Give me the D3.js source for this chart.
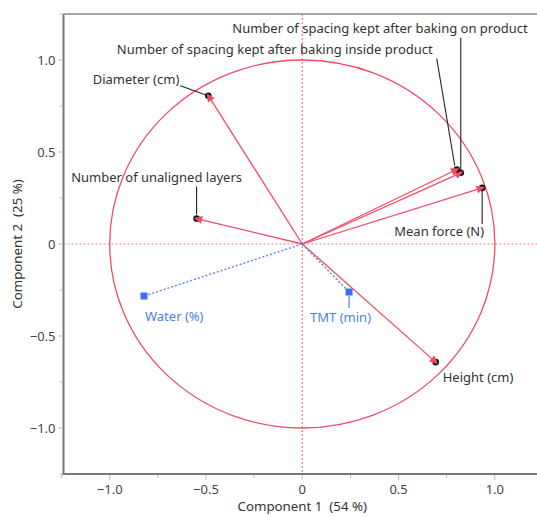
<!DOCTYPE html>
<html>
<head>
<meta charset="utf-8">
<script src="https://cdn.jsdelivr.net/npm/d3@7"></script>
<style>
  html, body { margin: 0; padding: 0; background: #fff; }
  svg { display: block; font-family: "Noto Sans", "Open Sans", sans-serif; }
</style>
</head>
<body>
<svg id="chart" width="537" height="517"></svg>
<script>
// Loading plot: variable loadings on the first two principal components
const variables = [
  "Number of spacing kept after baking on product",
  "Number of spacing kept after baking inside product",
  "Diameter (cm)",
  "Number of unaligned layers",
  "Mean force (N)",
  "Height (cm)",
  "Water (%)",
  "TMT (min)"
];
const comp1 = [0.823, 0.802, -0.488, -0.549, 0.934, 0.693, -0.822, 0.243];
const comp2 = [0.387, 0.405, 0.806, 0.138, 0.305, -0.642, -0.283, -0.261];
// active variables are drawn red with arrows, supplementary ones blue and dotted
const kind = ["active", "active", "active", "active", "active", "active", "supp", "supp"];

const majorTicks = [-1.0, -0.5, 0, 0.5, 1.0];
const minorTicks = [-1.25, -0.75, -0.25, 0.25, 0.75, 1.25];
const xTitle = "Component 1  (54 %)";
const yTitle = "Component 2  (25 %)";

// label placement relative to each vector tip (pixels), plus optional leader line
const labelLayout = {
  "Number of spacing kept after baking on product": { dx: 67, dy: -140, anchor: "end", leader: [[0, -135], [0, -3]] },
  "Number of spacing kept after baking inside product": { dx: -24, dy: -115, anchor: "end", leader: [[-20, -111], [-2, -4]] },
  "Diameter (cm)": { dx: -29, dy: -12, anchor: "end", leader: [[-28, -10], [-3, -1]] },
  "Number of unaligned layers": { dx: -40, dy: -37, anchor: "middle", leader: [[0, -32], [0, -4]] },
  "Mean force (N)": { dx: 2, dy: 48, anchor: "end", leader: [[0, 36], [0, 3]] },
  "Height (cm)": { dx: 7, dy: 20, anchor: "start" },
  "Water (%)": { dx: 1, dy: 25, anchor: "start" },
  "TMT (min)": { dx: -39, dy: 30, anchor: "start", leader: [[0, 16], [0, 4]] }
};

const red = "#f24c64";
const blue = "#3b6ff2";
const blueText = "#4d7ef0";

const svg = d3.select("#chart");
const pLeft = 63.5, pRight = 543, pTop = 14, pBottom = 474;

const x = d3.scaleLinear().domain([-1.24, 1.25]).range([pLeft, pRight]);
const y = d3.scaleLinear().domain([-1.25, 1.25]).range([pBottom, pTop]);

svg.append("clipPath").attr("id", "plotclip")
  .append("rect").attr("x", pLeft).attr("y", pTop).attr("width", pRight - pLeft).attr("height", pBottom - pTop);

const plot = svg.append("g").attr("clip-path", "url(#plotclip)");

// zero reference lines
plot.append("line")
  .attr("x1", x(0)).attr("x2", x(0)).attr("y1", pTop).attr("y2", pBottom)
  .attr("stroke", red).attr("stroke-opacity", 0.75).attr("stroke-width", 1.2).attr("stroke-dasharray", "2,2");
plot.append("line")
  .attr("x1", pLeft).attr("x2", pRight).attr("y1", y(0)).attr("y2", y(0))
  .attr("stroke", red).attr("stroke-opacity", 0.75).attr("stroke-width", 1.2).attr("stroke-dasharray", "2,2");

// unit correlation circle
plot.append("ellipse")
  .attr("cx", x(0)).attr("cy", y(0))
  .attr("rx", x(1) - x(0)).attr("ry", y(0) - y(1))
  .attr("fill", "none").attr("stroke", red).attr("stroke-width", 1.3);

const rows = variables.map((name, i) => ({ name, c1: comp1[i], c2: comp2[i], kind: kind[i] }));

// vectors
rows.forEach(d => {
  const x0 = x(0), y0 = y(0), x1 = x(d.c1), y1 = y(d.c2);
  if (d.kind === "active") {
    plot.append("line")
      .attr("x1", x0).attr("y1", y0).attr("x2", x1).attr("y2", y1)
      .attr("stroke", red).attr("stroke-width", 1.3);
  } else {
    plot.append("line")
      .attr("x1", x0).attr("y1", y0).attr("x2", x1).attr("y2", y1)
      .attr("stroke", "#5a88f5").attr("stroke-width", 1.5).attr("stroke-dasharray", "2,2");
  }
});

// leader lines
rows.forEach(d => {
  const L = labelLayout[d.name];
  if (!L.leader) return;
  const px = x(d.c1), py = y(d.c2);
  plot.append("line")
    .attr("x1", px + L.leader[0][0]).attr("y1", py + L.leader[0][1])
    .attr("x2", px + L.leader[1][0]).attr("y2", py + L.leader[1][1])
    .attr("stroke", d.kind === "active" ? "#222" : blue).attr("stroke-width", 1.1);
});

// tip markers: black dot partly covered by a red arrowhead
rows.forEach(d => {
  const px = x(d.c1), py = y(d.c2);
  if (d.kind === "active") {
    const ang = Math.atan2(py - y(0), px - x(0));
    const c = Math.cos(ang), s = Math.sin(ang);
    plot.append("circle").attr("cx", px).attr("cy", py)
      .attr("r", 3.3).attr("fill", "#111");
    const tip = 3, len = 8.5, half = 4;
    const bx = px + c * (tip - len), by = py + s * (tip - len);
    const pts = [
      [px + c * tip, py + s * tip],
      [bx - s * half, by + c * half],
      [bx + s * half, by - c * half]
    ];
    plot.append("polygon").attr("points", pts.map(p => p.join(",")).join(" ")).attr("fill", red);
  } else {
    plot.append("rect").attr("x", px - 3.5).attr("y", py - 3.5).attr("width", 7).attr("height", 7)
      .attr("fill", blue);
  }
});

// variable labels
rows.forEach(d => {
  const L = labelLayout[d.name];
  plot.append("text")
    .attr("x", x(d.c1) + L.dx).attr("y", y(d.c2) + L.dy)
    .attr("text-anchor", L.anchor)
    .attr("font-size", 13)
    .attr("fill", d.kind === "active" ? "#333" : blueText)
    .text(d.name);
});

// frame
svg.append("line").attr("x1", pLeft).attr("x2", pRight).attr("y1", pTop).attr("y2", pTop)
  .attr("stroke", "#8a8a8a").attr("stroke-width", 1.5);
svg.append("line").attr("x1", pLeft).attr("x2", pLeft).attr("y1", pTop).attr("y2", pBottom + 1)
  .attr("stroke", "#777").attr("stroke-width", 2);
svg.append("line").attr("x1", pLeft - 1).attr("x2", pRight).attr("y1", pBottom).attr("y2", pBottom)
  .attr("stroke", "#777").attr("stroke-width", 2);

const fmt = v => v === 0 ? "0" : d3.format(".1f")(v);

// x axis
const xAxis = svg.append("g").attr("transform", `translate(0,${pBottom + 1})`);
xAxis.selectAll(".maj").data(majorTicks).join("line").attr("class", "maj")
  .attr("x1", d => x(d)).attr("x2", d => x(d)).attr("y1", 0).attr("y2", 5)
  .attr("stroke", "#bbb").attr("stroke-width", 1);
xAxis.selectAll(".min").data(minorTicks.filter(v => x(v) <= 537)).join("line").attr("class", "min")
  .attr("x1", d => x(d)).attr("x2", d => x(d)).attr("y1", 0).attr("y2", 3)
  .attr("stroke", "#bbb").attr("stroke-width", 1);
xAxis.selectAll("text").data(majorTicks).join("text")
  .attr("x", d => x(d)).attr("y", 19)
  .attr("text-anchor", "middle").attr("font-size", 13).attr("fill", "#444")
  .text(fmt);

// y axis
const yAxis = svg.append("g").attr("transform", `translate(${pLeft - 1},0)`);
yAxis.selectAll(".maj").data(majorTicks).join("line").attr("class", "maj")
  .attr("x1", 0).attr("x2", -5).attr("y1", d => y(d)).attr("y2", d => y(d))
  .attr("stroke", "#bbb").attr("stroke-width", 1);
yAxis.selectAll(".min").data(minorTicks).join("line").attr("class", "min")
  .attr("x1", 0).attr("x2", -3).attr("y1", d => y(d)).attr("y2", d => y(d))
  .attr("stroke", "#bbb").attr("stroke-width", 1);
yAxis.selectAll("text").data(majorTicks).join("text")
  .attr("x", -7).attr("y", d => y(d)).attr("dy", "0.35em")
  .attr("text-anchor", "end").attr("font-size", 13).attr("fill", "#444")
  .text(fmt);

// axis titles
svg.append("text").attr("x", x(0)).attr("y", 511)
  .attr("text-anchor", "middle").attr("font-size", 13.3).attr("fill", "#333")
  .style("white-space", "pre")
  .text(xTitle);
svg.append("text")
  .attr("transform", `translate(22,${y(0)}) rotate(-90)`)
  .attr("text-anchor", "middle").attr("font-size", 13.3).attr("fill", "#333")
  .style("white-space", "pre")
  .text(yTitle);
</script>
</body>
</html>
